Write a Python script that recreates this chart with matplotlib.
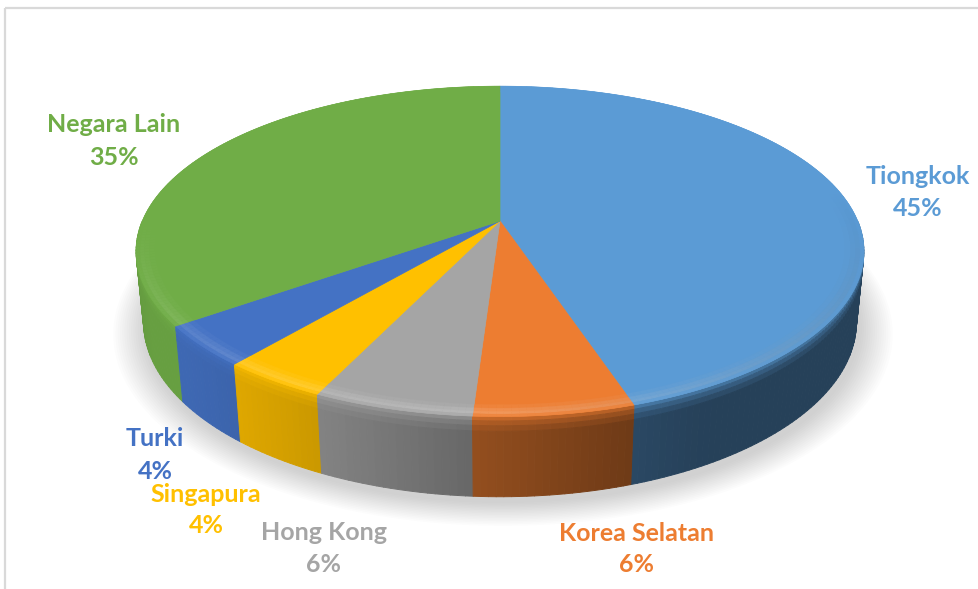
import numpy as np
import matplotlib.pyplot as plt
from matplotlib.patches import Polygon
from matplotlib.collections import PolyCollection
from matplotlib.colors import to_rgb

# export share by destination country
countries = ['Tiongkok', 'Korea Selatan', 'Hong Kong', 'Singapura', 'Turki', 'Negara Lain']
shares = np.array([45, 6, 6, 4, 4, 35])
colors = ['#5b9bd5', '#ed7d31', '#a5a5a5', '#ffc000', '#4472c4', '#70ad47']

# label anchors in pixels: x centre, baseline of name, baseline of percentage
label_pos = [(918, 184, 216), (637, 541, 572), (324, 540, 572),
             (206, 502, 533), (155, 446, 479), (114, 132, 165)]

# camera for the tilted disc
CX, CY = 500, 221
SCALE = 1742
DIST = 4.87
ELEV = np.radians(26.5)
THICK = 0.222


def project(theta, r, z):
    th, r, z = np.broadcast_arrays(np.radians(np.asarray(theta, float)), r, z)
    x = r * np.sin(th)
    y = r * np.cos(th)
    v = y * np.sin(ELEV) + z * np.cos(ELEV)
    depth = DIST + y * np.cos(ELEV) - z * np.sin(ELEV)
    return np.column_stack([CX + SCALE * x / depth, CY - SCALE * v / depth])


def wall_shade(theta):
    return 0.42 + 0.5 * np.clip(np.cos(np.radians(theta - 240)), 0, 1) ** 1.5


fig = plt.figure(figsize=(9.79, 5.89), dpi=100)
ax = fig.add_axes([0, 0, 1, 1])
ax.set_xlim(0, 979)
ax.set_ylim(589, 0)
ax.axis('off')

# chart frame
ax.plot([5, 979], [8, 8], color='#d9d9d9', lw=1.6, solid_capstyle='butt')
ax.plot([5, 5], [8, 589], color='#d9d9d9', lw=1.6, solid_capstyle='butt')

edges = np.concatenate([[0], np.cumsum(shares)]) * 360 / shares.sum()

# soft drop shadow under the disc
ring = np.linspace(0, 360, 361)
for k in range(16):
    pts = project(ring, 1.0 + 0.006 * k, -THICK) + np.array([3, 6])
    ax.add_patch(Polygon(pts, closed=True, fc='#808080', ec='none', alpha=0.025))

# outer walls, split into thin strips so the lighting can vary
zs = [0, -0.012, -0.025, -0.04, -THICK]
bevel = [0.55, 0.3, 0.12, 0.0]
strips = []
for i in range(len(shares)):
    lo, hi = max(edges[i], 90), min(edges[i + 1], 270)
    if lo >= hi:
        continue
    th = np.linspace(lo, hi, max(2, int(hi - lo) + 1))
    base = np.array(to_rgb(colors[i]))
    for t1, t2 in zip(th[:-1], th[1:]):
        f = wall_shade(0.5 * (t1 + t2))
        for (z1, z2), w in zip(zip(zs[:-1], zs[1:]), bevel):
            c = base * (f + (1 - f) * w)
            quad = np.vstack([project([t1, t2], 1, z1), project([t2, t1], 1, z2)])
            strips.append((np.cos(np.radians(0.5 * (t1 + t2))), quad, c))
strips.sort(key=lambda s: -s[0])
ax.add_collection(PolyCollection([s[1] for s in strips], facecolors=[s[2] for s in strips],
                                 edgecolors=[s[2] for s in strips], linewidths=0.7))

# top faces
for i in range(len(shares)):
    arc = np.linspace(edges[i], edges[i + 1], 200)
    pts = np.vstack([project(0, 0, 0), project(arc, 1, 0)])
    ax.add_patch(Polygon(pts, closed=True, fc=colors[i], ec=colors[i], lw=0.5))

# rounded rim highlight on the top faces
rim_r = [0.95, 0.965, 0.978, 0.99, 1.0]
rim_w = [0.05, 0.14, 0.2, 0.08]
rim_polys, rim_cols = [], []
for i in range(len(shares)):
    th = np.linspace(edges[i], edges[i + 1], max(2, int(edges[i + 1] - edges[i]) + 1))
    base = np.array(to_rgb(colors[i]))
    for t1, t2 in zip(th[:-1], th[1:]):
        tm = np.radians(0.5 * (t1 + t2))
        front = max(0.0, -np.cos(tm)) ** 1.2
        dark = max(0.0, np.sin(tm)) * max(0.0, -np.cos(tm) + 0.2)
        for (r1, r2), w in zip(zip(rim_r[:-1], rim_r[1:]), rim_w):
            c = base + (1 - base) * w * front
            c = c * (1 - 0.6 * w * dark)
            rim_polys.append(np.vstack([project([t1, t2], r1, 0), project([t2, t1], r2, 0)]))
            rim_cols.append(np.clip(c, 0, 1))
ax.add_collection(PolyCollection(rim_polys, facecolors=rim_cols, edgecolors=rim_cols,
                                 linewidths=0.3))

# data labels
for name, share, col, (x, y1, y2) in zip(countries, shares, colors, label_pos):
    ax.text(x, y1, name, color=col, fontsize=18, fontfamily='Lato', fontweight='bold',
            ha='center', va='baseline')
    ax.text(x, y2, f'{share}%', color=col, fontsize=18, fontfamily='Lato',
            fontweight='bold', ha='center', va='baseline')

fig.savefig('out.png', dpi=100)
